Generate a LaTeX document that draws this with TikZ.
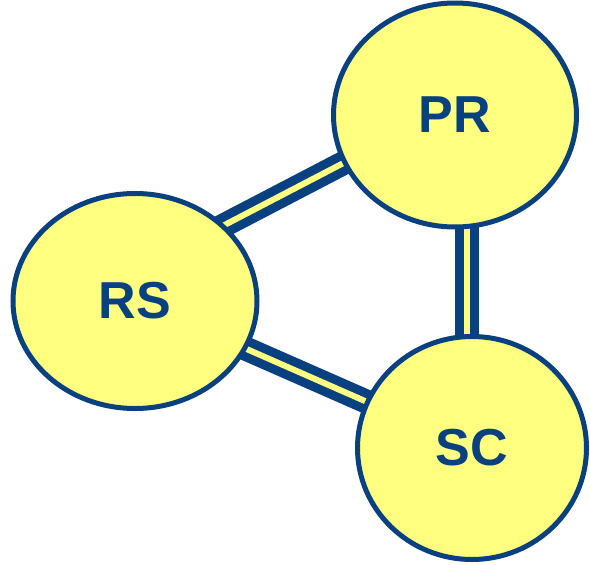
\documentclass[tikz,border=0pt]{standalone}
\usepackage{fontspec}
\setmainfont{Liberation Sans}
\usetikzlibrary{shapes.geometric}
\definecolor{dblue}{RGB}{8,64,128}
\definecolor{lyellow}{RGB}{255,255,128}
\tikzset{
  circ/.style={ellipse, draw=dblue, fill=lyellow, line width=5pt, inner sep=0pt,
    text=dblue, font=\fontsize{52}{52}\selectfont\bfseries},
  link/.style={draw=dblue, line width=9pt, double=lyellow, double distance=6pt}
}
\begin{document}
\begin{tikzpicture}[x=1pt,y=-1pt]
\useasboundingbox (0,0) rectangle (590,565);
\coordinate (a1) at (190,243);
\coordinate (a2) at (380,144);
\coordinate (b1) at (466.5,150);
\coordinate (b2) at (466.5,420);
\coordinate (c1) at (135,300);
\coordinate (c2) at (472,448);
\draw[link] (a1) -- (a2);
\draw[link] (b1) -- (b2);
\draw[link] (c1) -- (c2);
\node[circ, minimum width=243pt, minimum height=224pt] (PR) at (455,115) {PR};
\node[circ, minimum width=244pt, minimum height=215pt] (RS) at (135,301) {RS};
\node[circ, minimum width=229pt, minimum height=223pt] (SC) at (472,448) {SC};
\end{tikzpicture}
\end{document}
